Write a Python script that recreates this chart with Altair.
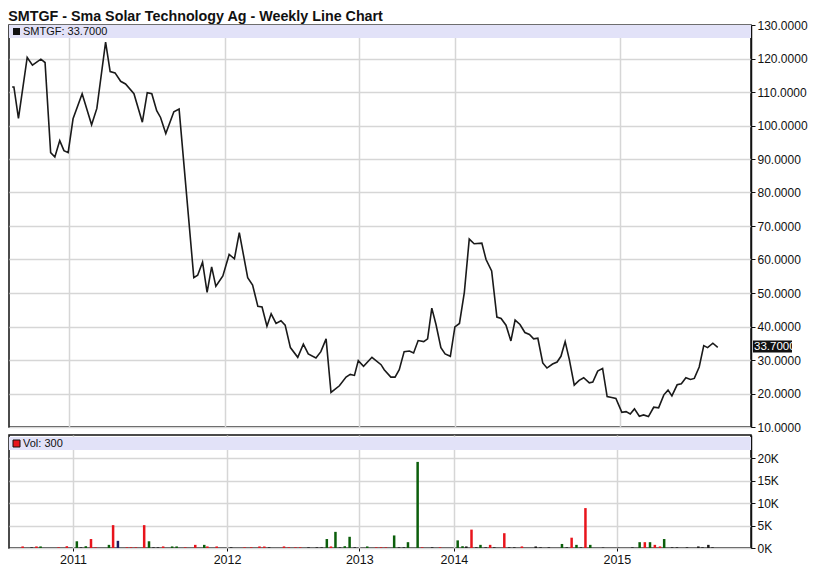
import altair as alt
import pandas as pd

# ---- price series (weekly, x = trading-week position) ----
price_t = [0.9, 1.4, 2.7, 5.2, 6.7, 9.1, 10.3, 11.9, 13.1, 14.5, 15.7, 16.9, 18.3, 20.9, 23.6,
           25.1, 27.6, 28.9, 30.3, 31.9, 33.3, 35.7, 38.1, 39.5, 40.8, 42.2, 43.3, 44.8, 47.1,
           48.6, 52.8, 53.9, 55.3, 56.6, 57.9, 59.1, 61.1, 62.9, 64.4, 65.8, 68.2, 69.6, 71.1,
           72.3, 73.7, 74.9, 76.3, 77.7, 78.9, 80.4, 82.5, 84.1, 85.5, 87.7, 89.1, 90.6, 92.0,
           94.4, 96.3, 97.5, 98.7, 99.8, 101.3, 103.7, 106.3, 107.2, 109.1, 110.3, 111.5, 112.9,
           114.4, 115.6, 116.9, 118.5, 119.6, 120.8, 122.0, 123.4, 124.6, 126.1, 127.4, 128.7,
           130.1, 131.5, 132.9, 135.1, 136.3, 137.9, 139.4, 140.6, 142.0, 143.4, 144.6, 146.0,
           147.4, 148.7, 149.9, 151.1, 152.5, 153.7, 155.3, 156.6, 157.7, 158.9, 160.1, 161.5,
           162.9, 164.2, 165.8, 166.8, 168.2, 169.6, 170.9, 172.2, 173.4, 175.1, 176.3, 177.5,
           178.7, 180.1, 181.3, 182.7, 184.2, 185.6, 187.1, 188.3, 189.4, 190.9, 192.1, 193.4,
           194.7, 195.8, 197.2, 198.5, 199.6, 201.1, 202.5]
price_v = [111.5, 111.5, 102.1, 120.3, 118.0, 119.8, 118.8, 91.9, 90.6, 95.5, 92.5, 91.9, 102.0,
           109.5, 100.2, 105.1, 124.9, 116.1, 115.7, 113.2, 112.4, 109.5, 101.0, 109.8, 109.5,
           104.4, 102.4, 97.6, 104.1, 104.9, 54.6, 55.3, 59.2, 50.2, 57.8, 52.0, 55.1, 61.5, 60.2,
           68.0, 54.6, 52.4, 46.0, 45.8, 40.1, 43.8, 40.9, 41.7, 40.4, 33.7, 30.8, 34.7, 31.8,
           30.6, 32.5, 36.3, 20.3, 22.3, 24.9, 25.7, 25.4, 29.8, 28.1, 30.8, 28.6, 27.1, 24.9,
           24.9, 27.1, 32.5, 32.7, 32.1, 35.8, 35.5, 36.3, 45.5, 40.6, 33.7, 31.8, 31.1, 39.9,
           40.9, 50.2, 66.1, 64.7, 64.9, 60.0, 56.6, 42.8, 42.4, 40.4, 35.7, 41.9, 40.6, 38.2,
           37.6, 36.3, 36.5, 29.1, 27.6, 28.8, 29.4, 31.1, 35.5, 30.1, 22.5, 23.9, 24.7, 23.2,
           23.4, 26.7, 27.5, 19.1, 18.8, 18.5, 14.4, 14.6, 13.9, 15.4, 13.2, 13.6, 13.1, 15.9,
           15.7, 19.6, 21.0, 19.3, 22.6, 22.9, 24.7, 24.2, 24.5, 27.9, 34.3, 33.7, 35.0, 33.8]

# ---- volume series (thousands of shares) ----
vol_t = [2.5, 5.1, 6.5, 7.7, 12.9, 15.3, 18.2, 19.4, 20.8, 22.3, 23.6, 27.5, 28.7, 30.1, 32.7,
         33.9, 35.3, 37.7, 39.1, 40.4, 41.7, 43.2, 45.8, 47.1, 49.6, 52.5, 55.1, 56.0, 58.7,
         62.9, 66.8, 68.7, 71.1, 72.5, 73.9, 78.2, 79.6, 81.5, 82.9, 85.3, 87.7, 89.1, 90.6,
         91.8, 93.1, 94.4, 95.8, 97.2, 98.7, 102.3, 104.9, 106.3, 107.7, 110.1, 111.5, 112.9,
         114.1, 116.9, 118.2, 121.1, 123.4, 128.5, 129.9, 131.0, 132.5, 133.9, 135.1, 136.6,
         137.9, 139.1, 142.0, 143.4, 144.9, 147.1, 151.1, 152.5, 154.9, 158.7, 160.1, 161.5,
         162.9, 164.2, 165.5, 166.9, 170.6, 174.9, 179.1, 181.2, 182.7, 184.2, 185.6, 187.1,
         188.3, 190.6, 192.0, 194.9, 198.2, 199.4, 201.1, 202.3]
vol_k = [0.35, 0.15, 0.35, 0.35, 0.15, 0.4, 1.5, 0.15, 0.4, 2.0, 0.15, 0.7, 5.1, 1.6, 0.15,
         0.15, 0.15, 5.1, 1.5, 0.15, 0.15, 0.35, 0.35, 0.35, 0.15, 0.7, 0.7, 0.35, 0.35,
         0.15, 0.15, 0.15, 0.35, 0.35, 0.15, 0.35, 0.15, 0.15, 0.15, 0.15, 0.15, 0.15, 2.0,
         0.35, 3.6, 0.15, 0.4, 2.5, 0.15, 0.35, 0.15, 0.15, 0.15, 2.8, 0.15, 0.15,
         1.3, 19.2, 0.15, 0.15, 0.15, 1.7, 0.4, 0.35, 4.1, 0.15, 0.7, 0.15,
         0.7, 0.15, 3.3, 0.15, 0.15, 0.35, 0.35, 0.15, 0.15, 0.9, 0.15, 2.3,
         0.7, 0.15, 8.9, 0.7, 0.1, 0.1, 0.15, 1.3, 1.3, 1.3, 0.7, 0.35,
         2.0, 0.15, 0.15, 0.15, 0.35, 0.15, 0.7, 0.15]
vol_dir = ["dn", "fl", "dn", "up", "dn", "dn", "up", "fl", "up", "dn", "dn", "up", "dn", "nv", "dn",
           "dn", "dn", "dn", "up", "fl", "fl", "dn", "up", "up", "dn", "dn", "up", "dn", "dn",
           "fl", "dn", "dn", "dn", "dn", "fl", "dn", "dn", "dn", "dn", "fl", "fl", "fl", "up",
           "dn", "up", "fl", "up", "up", "fl", "up", "dn", "dn", "dn", "up", "fl", "fl",
           "up", "up", "dn", "fl", "dn", "up", "up", "fl", "dn", "fl", "up", "fl",
           "dn", "fl", "dn", "fl", "fl", "dn", "fl", "fl", "fl", "up", "fl", "dn",
           "up", "fl", "dn", "up", "fl", "fl", "fl", "up", "dn", "up", "dn", "dn",
           "up", "fl", "fl", "fl", "fl", "fl", "fl", "fl"]

year_pos = [17.1, 61.7, 100, 127.4, 174.6]
year_lab = ["2011", "2012", "2013", "2014", "2015"]
price_ticks = [10, 20, 30, 40, 50, 60, 70, 80, 90, 100, 110, 120, 130]
vol_ticks = [0, 5, 10, 15, 20]
last_price = 33.7
y_min, y_max = 10, 130

price_df = pd.DataFrame({"t": price_t, "v": price_v})
vol_df = pd.DataFrame({"t": vol_t, "k": vol_k, "d": vol_dir})

W = 742
H1 = 402
H2 = 113
FONT = "Liberation Sans"
GRID = "#d6d6d6"
BAND = "#e2e2f8"

label_expr = "{" + ",".join(f"'{p:g}':'{l}'" for p, l in zip(year_pos, year_lab)) + "}[''+datum.value]"

xs = alt.Scale(domain=[0, 212], nice=False, zero=False)

x_top = alt.X("t:Q", scale=xs, title=None,
              axis=alt.Axis(values=year_pos, labels=False, ticks=False, domain=False,
                            grid=True, gridColor=GRID, gridWidth=1.5))

line = alt.Chart(price_df).mark_line(color="#1a1a1a", strokeWidth=1.6).encode(
    x=x_top,
    y=alt.Y("v:Q", scale=alt.Scale(domain=[y_min, y_max], nice=False, zero=False), title=None,
            axis=alt.Axis(orient="right", values=price_ticks, format=".4f", grid=True,
                          gridColor=GRID, gridWidth=1.5, domainColor="#111", domainWidth=1.5,
                          tickColor="#111", tickSize=4, labelFontSize=12, labelFont=FONT,
                          labelColor="#111", labelPadding=2, labelOverlap=False)),
)

band1 = alt.Chart(pd.DataFrame({"a": [0]})).mark_rect(color=BAND).encode(
    x=alt.value(0), x2=alt.value(W), y=alt.value(0), y2=alt.value(13))
sq1 = alt.Chart(pd.DataFrame({"a": [0]})).mark_rect(color="#111").encode(
    x=alt.value(4), x2=alt.value(11), y=alt.value(3), y2=alt.value(10))
txt1 = alt.Chart(pd.DataFrame({"a": [0]})).mark_text(
    align="left", baseline="middle", fontSize=11, font=FONT, color="#111").encode(
    x=alt.value(14), y=alt.value(7), text=alt.value("SMTGF: 33.7000"))

# last-price tag on the right axis
tag_y = (y_max - last_price) / (y_max - y_min) * H1 - 1
tag_box = alt.Chart(pd.DataFrame({"a": [0]})).mark_rect(color="#111").encode(
    x=alt.value(W + 2), x2=alt.value(W + 41), y=alt.value(tag_y - 6), y2=alt.value(tag_y + 6))
tag_txt = alt.Chart(pd.DataFrame({"a": [0]})).mark_text(
    align="left", baseline="middle", fontSize=11.5, font=FONT, color="white").encode(
    x=alt.value(W + 3), y=alt.value(tag_y), text=alt.value(f"{last_price:.4f}"))

top = alt.layer(band1, line, sq1, txt1, tag_box, tag_txt).properties(width=W, height=H1)

x_bot = alt.X("t:Q", scale=xs, title=None,
              axis=alt.Axis(values=year_pos, labelExpr=label_expr, grid=True, gridColor=GRID,
                            gridWidth=1.5, domain=False, tickColor="#111", tickSize=3,
                            labelFontSize=12.5, labelFont=FONT, labelColor="#111", labelPadding=2))

bars = alt.Chart(vol_df).mark_bar(size=2.5).encode(
    x=x_bot,
    y=alt.Y("k:Q", scale=alt.Scale(domain=[0, 25.2], nice=False), title=None,
            axis=alt.Axis(orient="right", values=vol_ticks, labelExpr="datum.value + 'K'",
                          grid=True, gridColor=GRID, gridWidth=1.5, domainColor="#111",
                          domainWidth=1.5, tickColor="#111", tickSize=4, labelFontSize=12,
                          labelFont=FONT, labelColor="#111", labelPadding=2, labelOverlap=False)),
    color=alt.Color("d:N", legend=None,
                    scale=alt.Scale(domain=["up", "dn", "fl", "nv"],
                                    range=["#0b5e0b", "#e8141c", "#1a1a1a", "#1c1c5e"])),
)

band2 = alt.Chart(pd.DataFrame({"a": [0]})).mark_rect(color=BAND).encode(
    x=alt.value(0), x2=alt.value(W), y=alt.value(2), y2=alt.value(15))
sq2 = alt.Chart(pd.DataFrame({"a": [0]})).mark_rect(color="#e8141c", stroke="#111", strokeWidth=1).encode(
    x=alt.value(4), x2=alt.value(11), y=alt.value(5), y2=alt.value(12))
txt2 = alt.Chart(pd.DataFrame({"a": [0]})).mark_text(
    align="left", baseline="middle", fontSize=11, font=FONT, color="#111").encode(
    x=alt.value(14), y=alt.value(9), text=alt.value("Vol: 300"))

bottom = alt.layer(band2, bars, sq2, txt2).properties(width=W, height=H2)

chart = alt.vconcat(top, bottom, spacing=0).properties(
    title=alt.TitleParams("SMTGF - Sma Solar Technology Ag - Weekly Line Chart",
                          anchor="start", fontSize=14.3, font=FONT, fontWeight="bold",
                          color="#111", offset=-6),
    padding={"left": 0, "top": 1, "right": 0, "bottom": 0},
).configure_view(stroke="#111", strokeWidth=1.5).configure_scale(bandPaddingInner=0)

chart.save("out.html", embed_options={"renderer": "svg", "actions": False})
